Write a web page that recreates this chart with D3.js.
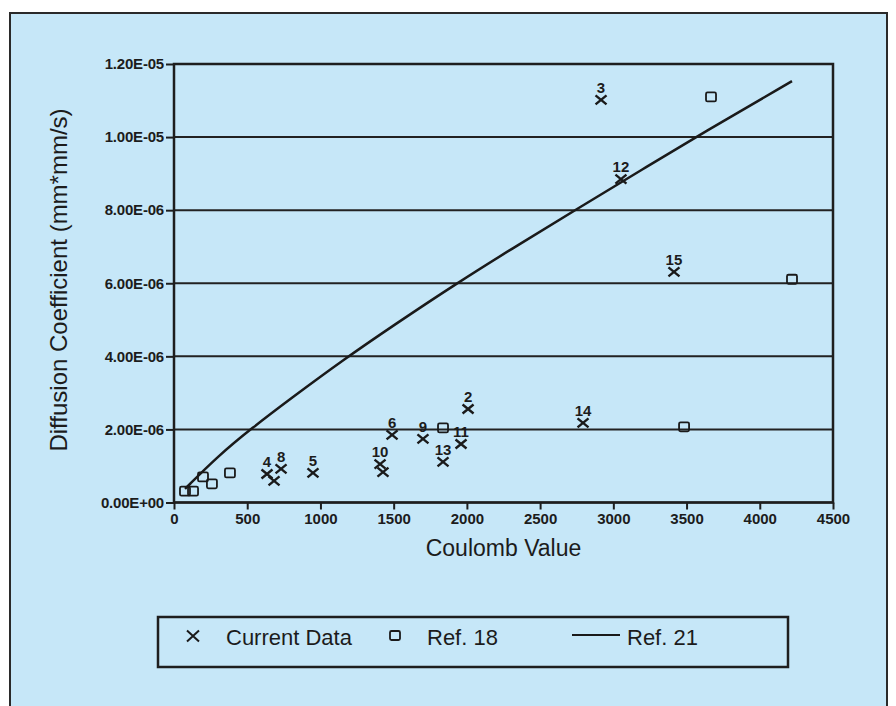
<!DOCTYPE html>
<html>
<head>
<meta charset="utf-8">
<script src="https://cdn.jsdelivr.net/npm/d3@7"></script>
<style>
  body { margin: 0; background: #ffffff; }
  text { font-family: "Liberation Sans", Arial, Helvetica, sans-serif; fill: #1c1c1c; }
</style>
</head>
<body>
<div id="chart"></div>
<script>
// tick values
var xTicks = [0, 500, 1000, 1500, 2000, 2500, 3000, 3500, 4000, 4500];
var yTicks = [0, 2e-6, 4e-6, 6e-6, 8e-6, 1e-5, 1.2e-5];

// current data (x), values in 1E-06 mm*mm/s
var currentLabels = ["2", "3", "4", "", "5", "6", "8", "9", "10", "", "11", "12", "13", "14", "15"];
var currentX = [2008, 2916, 635, 683, 949, 1489, 731, 1700, 1407, 1427, 1960, 3052, 1837, 2793, 3414];
var currentY = [2.56, 11.02, 0.78, 0.59, 0.81, 1.85, 0.92, 1.74, 1.05, 0.83, 1.60, 8.85, 1.11, 2.18, 6.31];

// Ref. 18 (squares)
var ref18X = [75, 130, 198, 259, 382, 1837, 3483, 4220, 3667];
var ref18Y = [0.31, 0.31, 0.70, 0.51, 0.81, 2.04, 2.07, 6.11, 11.1];

// Ref. 21 (line)
var ref21X = [75, 300, 533, 792, 1161, 1500, 1919, 2350, 2779, 3200, 3606, 4220];
var ref21Y = [0.37, 1.27, 2.04, 2.83, 3.92, 4.85, 5.97, 7.05, 8.10, 9.12, 10.10, 11.53];

var legendLabels = ["Current Data", "Ref. 18", "Ref. 21"];

var W = 896, H = 706;

var svg = d3.select("#chart")
  .append("svg")
  .attr("width", W)
  .attr("height", H);

//light blue panel
svg.append("rect")
  .attr("x", 10)
  .attr("y", 13)
  .attr("width", 877)
  .attr("height", 700)
  .attr("fill", "#c6e7f8")
  .attr("stroke", "#2a2a2a")
  .attr("stroke-width", 2);

var x = d3.scaleLinear().domain([0, 4500]).range([174, 833]);
var y = d3.scaleLinear().domain([0, 1.2e-5]).range([502.5, 64]);

function sci(v) {
  if (v === 0) return "0.00E+00";
  var p = v.toExponential(2).toUpperCase().split("E");
  var e = parseInt(p[1], 10);
  var s = e < 0 ? "-" : "+";
  e = Math.abs(e);
  return p[0] + "E" + s + (e < 10 ? "0" + e : e);
}

//horizontal grid lines
svg.append("g")
  .selectAll("line")
  .data(yTicks)
  .enter()
  .append("line")
  .attr("x1", x(0))
  .attr("x2", x(4500))
  .attr("y1", function(d) { return y(d); })
  .attr("y2", function(d) { return y(d); })
  .attr("stroke", "#222")
  .attr("stroke-width", 2);

//frame
svg.append("rect")
  .attr("x", x(0))
  .attr("y", y(1.2e-5))
  .attr("width", x(4500) - x(0))
  .attr("height", y(0) - y(1.2e-5))
  .attr("fill", "none")
  .attr("stroke", "#1e1e1e")
  .attr("stroke-width", 2.5);

//axes
var xAxis = svg.append("g")
  .attr("transform", "translate(0," + y(0) + ")")
  .call(d3.axisBottom(x).tickValues(xTicks).tickSize(7).tickPadding(4).tickFormat(d3.format("d")));
xAxis.select(".domain").remove();
xAxis.selectAll("line").attr("stroke", "#1e1e1e").attr("stroke-width", 2);
xAxis.selectAll("text")
  .attr("fill", "#1c1c1c")
  .style("font-size", "15px")
  .style("font-weight", "bold")
  .style("font-family", "'Liberation Sans', Arial, sans-serif");

var yAxis = svg.append("g")
  .attr("transform", "translate(" + x(0) + ",0)")
  .call(d3.axisLeft(y).tickValues(yTicks).tickSize(8).tickPadding(2).tickFormat(sci));
yAxis.select(".domain").remove();
yAxis.selectAll("line").attr("stroke", "#1e1e1e").attr("stroke-width", 2);
yAxis.selectAll("text")
  .attr("fill", "#1c1c1c")
  .style("font-size", "15px")
  .style("font-weight", "bold")
  .style("font-family", "'Liberation Sans', Arial, sans-serif")
  .style("letter-spacing", "-0.2px");

//axis titles
svg.append("text")
  .attr("x", (x(0) + x(4500)) / 2)
  .attr("y", 556)
  .attr("text-anchor", "middle")
  .style("font-size", "23px")
  .text("Coulomb Value");

svg.append("text")
  .attr("transform", "translate(67," + 280 + ") rotate(-90)")
  .attr("text-anchor", "middle")
  .style("font-size", "24px")
  .text("Diffusion Coefficient (mm*mm/s)");

//Ref. 21 line
var line = d3.line()
  .x(function(d) { return x(d[0]); })
  .y(function(d) { return y(d[1] * 1e-6); })
  .curve(d3.curveBasis);

svg.append("path")
  .datum(d3.zip(ref21X, ref21Y))
  .attr("d", line)
  .attr("fill", "none")
  .attr("stroke", "#1a1a1a")
  .attr("stroke-width", 2.5);

//Ref. 18 squares
svg.append("g")
  .selectAll("rect")
  .data(d3.zip(ref18X, ref18Y))
  .enter()
  .append("rect")
  .attr("x", function(d) { return x(d[0]) - 5; })
  .attr("y", function(d) { return y(d[1] * 1e-6) - 4.5; })
  .attr("width", 10)
  .attr("height", 9)
  .attr("rx", 1.5)
  .attr("fill", "none")
  .attr("stroke", "#1a1a1a")
  .attr("stroke-width", 1.8);

//current data crosses
function cross(cx, cy, w, h) {
  return "M" + (cx - w / 2) + "," + (cy - h / 2) + "L" + (cx + w / 2) + "," + (cy + h / 2) +
    "M" + (cx - w / 2) + "," + (cy + h / 2) + "L" + (cx + w / 2) + "," + (cy - h / 2);
}

var pts = svg.append("g")
  .selectAll("g")
  .data(d3.zip(currentX, currentY, currentLabels))
  .enter()
  .append("g");
pts.append("path")
  .attr("d", function(d) { return cross(x(d[0]), y(d[1] * 1e-6), 11, 9); })
  .attr("stroke", "#1a1a1a")
  .attr("stroke-width", 2.4);
pts.append("text")
  .attr("x", function(d) { return x(d[0]); })
  .attr("y", function(d) { return y(d[1] * 1e-6) - 7; })
  .attr("text-anchor", "middle")
  .style("font-size", "15px")
  .style("font-weight", "bold")
  .text(function(d) { return d[2]; });

//legend
var lg = svg.append("g");
lg.append("rect")
  .attr("x", 158)
  .attr("y", 617)
  .attr("width", 630)
  .attr("height", 50)
  .attr("fill", "none")
  .attr("stroke", "#1e1e1e")
  .attr("stroke-width", 2.5);
lg.append("path")
  .attr("d", cross(193, 636, 12, 11))
  .attr("stroke", "#1a1a1a")
  .attr("stroke-width", 2);
lg.append("rect")
  .attr("x", 390)
  .attr("y", 631)
  .attr("width", 10)
  .attr("height", 9)
  .attr("rx", 1.5)
  .attr("fill", "none")
  .attr("stroke", "#1a1a1a")
  .attr("stroke-width", 1.8);
lg.append("line")
  .attr("x1", 572)
  .attr("x2", 620)
  .attr("y1", 635)
  .attr("y2", 635)
  .attr("stroke", "#1a1a1a")
  .attr("stroke-width", 2);
lg.selectAll("text")
  .data(legendLabels)
  .enter()
  .append("text")
  .attr("x", function(d, i) { return [226, 427, 627][i]; })
  .attr("y", 645)
  .style("font-size", "22px")
  .text(function(d) { return d; });
</script>
</body>
</html>
